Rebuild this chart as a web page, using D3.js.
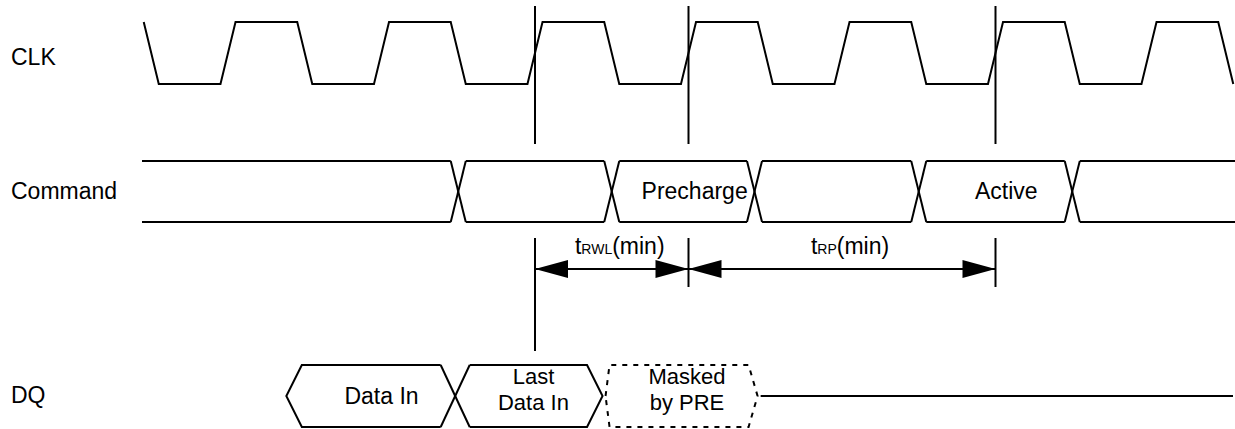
<html>
    <head>
        <script src="https://d3js.org/d3.v7.min.js"></script>
        <style type="text/css">
        body {
            margin: 0;
            background-color: white;
        }
        text {
            font-family: "Liberation Sans", Arial, sans-serif;
        }
        </style>
    </head>
    <body onload='init()'>
        <script>
// time is measured in clock cycles, rising edge n sits at t = n
const signals = ["CLK", "Command", "DQ"];
const clkRise = [0, 1, 2, 3, 4, 5, 6];
const clkFall = [-0.5, 0.5, 1.5, 2.5, 3.5, 4.5, 5.5, 6.5];
const cmdEdges = [1.5, 2.5, 3.43, 4.5, 5.5];
const cmdLabels = ["Precharge", "Active"];
const cmdLabelAt = [3.04, 5.07];
const refEdges = [2, 3, 5];
const timings = ["RWL", "RP"];
const timingFrom = [2, 3];
const timingTo = [3, 5];
const dqEdges = [0.38, 1.48, 2.44, 3.45];
const dqLabels = [["Data In"], ["Last", "Data In"], ["Masked", "by PRE"]];
const dqLabelAt = [1.0, 1.99, 2.99];

function init() {
    let width = 1235;
    let height = 429;
    let edge = 0.049;      // half width of a clock / command edge, in cycles
    let fontSize = 23;

    let svg = d3.select("body").append("svg")
        .attr("width", width)
        .attr("height", height)
        .attr("viewBox", [0, 0, width, height]);

    let x = d3.scaleLinear().domain([0, 3]).range([228, 688.5]);
    let tStart = x.invert(142);
    let tEnd = x.invert(1235);

    // row geometry
    let rows = {
        CLK: {hi: 22, lo: 84, label: 65},
        Command: {hi: 161, lo: 222, label: 199},
        DQ: {hi: 365, lo: 427, label: 403}
    };

    let ink = svg.append("g")
        .attr("fill", "none")
        .attr("stroke", "black")
        .attr("stroke-width", 2)
        .attr("stroke-linejoin", "miter");

    // signal names
    svg.append("g").selectAll("text")
        .data(signals)
        .enter()
        .append("text")
        .attr("x", 11)
        .attr("y", d => rows[d].label)
        .attr("font-size", fontSize + "px")
        .text(d => d);

    // clock
    let clkPts = [];
    let clkEdges = clkFall.map(t => ({t: t, dir: -1}))
        .concat(clkRise.map(t => ({t: t, dir: 1})))
        .sort((a, b) => a.t - b.t);
    clkEdges.forEach(function(e) {
        let from = e.dir < 0 ? rows.CLK.hi : rows.CLK.lo;
        let to = e.dir < 0 ? rows.CLK.lo : rows.CLK.hi;
        clkPts.push([x(e.t - edge), from]);
        clkPts.push([x(e.t + edge), to]);
    });
    ink.append("path")
        .attr("d", d3.line()(clkPts));

    // reference lines through the clock
    ink.selectAll(".ref")
        .data(refEdges)
        .enter()
        .append("line")
        .attr("x1", d => x(d))
        .attr("x2", d => x(d))
        .attr("y1", 6)
        .attr("y2", 144);

    // command bus
    let cTop = rows.Command.hi, cBot = rows.Command.lo;
    let bounds = [tStart].concat(cmdEdges).concat([tEnd]);
    for (let i = 0; i < bounds.length - 1; i++) {
        let a = i === 0 ? bounds[i] : bounds[i] + edge;
        let b = i === bounds.length - 2 ? bounds[i + 1] : bounds[i + 1] - edge;
        ink.append("line").attr("x1", x(a)).attr("x2", x(b)).attr("y1", cTop).attr("y2", cTop);
        ink.append("line").attr("x1", x(a)).attr("x2", x(b)).attr("y1", cBot).attr("y2", cBot);
    }
    cmdEdges.forEach(function(t) {
        ink.append("line").attr("x1", x(t - edge)).attr("x2", x(t + edge)).attr("y1", cTop).attr("y2", cBot);
        ink.append("line").attr("x1", x(t - edge)).attr("x2", x(t + edge)).attr("y1", cBot).attr("y2", cTop);
    });
    svg.append("g").selectAll("text")
        .data(cmdLabels)
        .enter()
        .append("text")
        .attr("x", (d, i) => x(cmdLabelAt[i]))
        .attr("y", rows.Command.label)
        .attr("text-anchor", "middle")
        .attr("font-size", fontSize + "px")
        .text(d => d);

    // timing arrows
    let arrowY = 269;
    let headL = 33, headH = 9;
    refEdges.forEach(function(t, i) {
        ink.append("line")
            .attr("x1", x(t)).attr("x2", x(t))
            .attr("y1", 238).attr("y2", i === 0 ? 351 : 287);
    });
    timings.forEach(function(name, i) {
        let a = x(timingFrom[i]), b = x(timingTo[i]);
        ink.append("line").attr("x1", a).attr("x2", b).attr("y1", arrowY).attr("y2", arrowY);
        svg.append("path")
            .attr("d", d3.line()([[a, arrowY], [a + headL, arrowY - headH], [a + headL, arrowY + headH]]) + "Z")
            .attr("fill", "black");
        svg.append("path")
            .attr("d", d3.line()([[b, arrowY], [b - headL, arrowY - headH], [b - headL, arrowY + headH]]) + "Z")
            .attr("fill", "black");
        let label = svg.append("text")
            .attr("x", (a + b) / 2 + 8)
            .attr("y", 254)
            .attr("text-anchor", "middle")
            .attr("font-size", fontSize + "px");
        label.append("tspan").text("t");
        label.append("tspan").attr("font-size", "14px").text(name);
        label.append("tspan").text("(min)");
    });

    // DQ bus
    let dTop = rows.DQ.hi, dBot = rows.DQ.lo, dMid = (dTop + dBot) / 2;
    let tip = 15.5, xw = 14.5;
    let p0 = x(dqEdges[0]), p1 = x(dqEdges[1]), p2 = x(dqEdges[2]), p3 = x(dqEdges[3]);
    // Data In
    ink.append("path")
        .attr("d", d3.line()([[p1 - xw, dTop], [p0 + tip, dTop], [p0, dMid], [p0 + tip, dBot], [p1 - xw, dBot]]));
    // crossing
    ink.append("line").attr("x1", p1 - xw).attr("x2", p1 + xw).attr("y1", dTop).attr("y2", dBot);
    ink.append("line").attr("x1", p1 - xw).attr("x2", p1 + xw).attr("y1", dBot).attr("y2", dTop);
    // Last Data In
    ink.append("path")
        .attr("d", d3.line()([[p1 + xw, dTop], [p2 - tip, dTop], [p2, dMid], [p2 - tip, dBot], [p1 + xw, dBot]]));
    // Masked by PRE (dashed)
    ink.append("path")
        .attr("stroke-dasharray", "5,6")
        .attr("d", d3.line()([[p2 + 3, dMid], [p2 + 7, dTop], [p3 - 9, dTop], [p3, dMid], [p3 - 9, dBot], [p2 + 7, dBot], [p2 + 3, dMid]]));
    // hi-Z line
    ink.append("line")
        .attr("x1", x(3.47)).attr("x2", 1233)
        .attr("y1", dMid).attr("y2", dMid);

    let dqFont = 22;
    dqLabels.forEach(function(lines, i) {
        let t = svg.append("text")
            .attr("x", x(dqLabelAt[i]))
            .attr("text-anchor", "middle")
            .attr("font-size", (lines.length === 1 ? fontSize : dqFont) + "px");
        if (lines.length === 1) {
            t.attr("y", 404).text(lines[0]);
        } else {
            t.attr("y", 384).text(lines[0]);
            svg.append("text")
                .attr("x", x(dqLabelAt[i]))
                .attr("y", 410)
                .attr("text-anchor", "middle")
                .attr("font-size", dqFont + "px")
                .text(lines[1]);
        }
    });
}
        </script>
    </body>
</html>
